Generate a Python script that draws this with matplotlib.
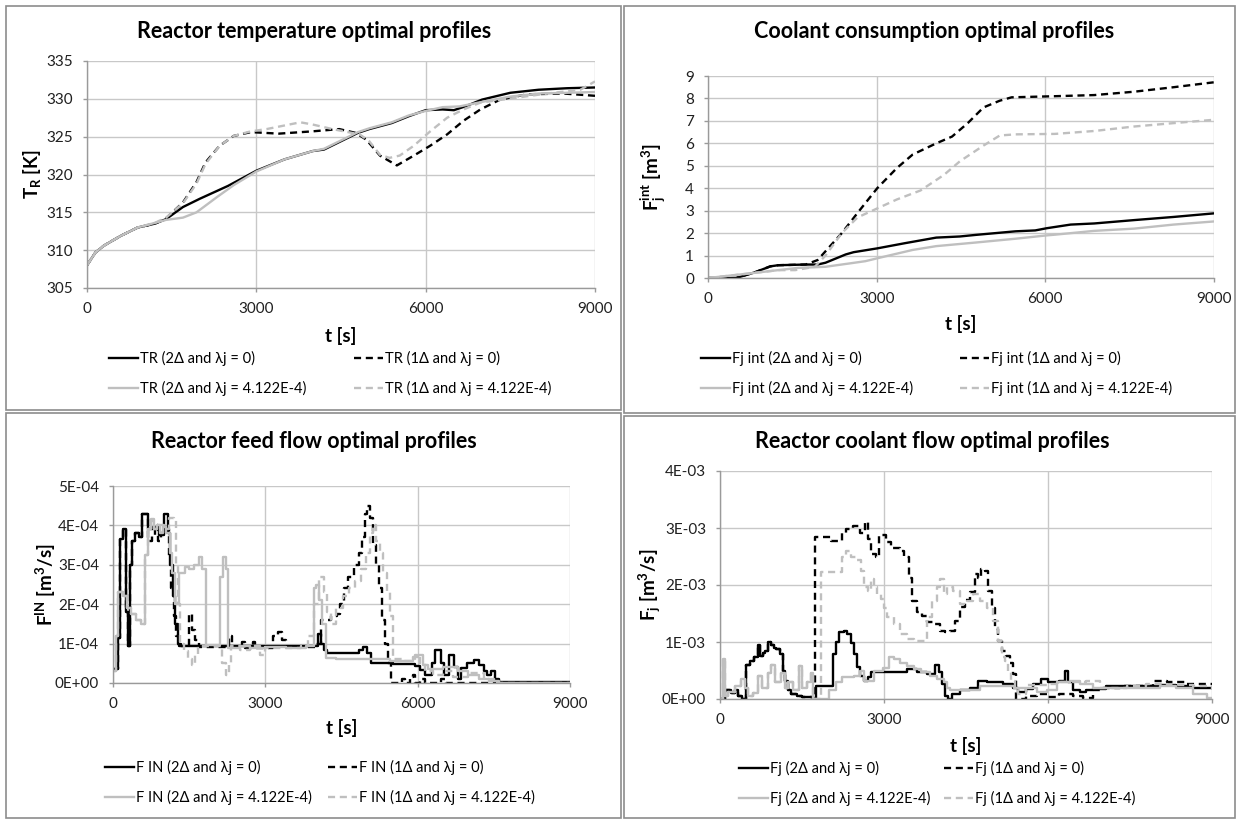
import numpy as np
import matplotlib
matplotlib.use("Agg")
import matplotlib.pyplot as plt
from matplotlib.patches import Rectangle
from matplotlib.ticker import FuncFormatter

plt.rcParams["font.family"] = ["Lato", "Open Sans", "DejaVu Sans"]
plt.rcParams["mathtext.fontset"] = "custom"
plt.rcParams["mathtext.rm"] = "Lato"
plt.rcParams["mathtext.bf"] = "Lato:bold"
plt.rcParams["mathtext.it"] = "Lato:italic"

W, H = 1240, 823

# ---- data (t [s], value) ----
# Reactor temperature [K]
TR_2D_0 = [(0, 308.0), (150, 309.7), (300, 310.6), (600, 311.9), (900, 313.0), (1200, 313.5),
           (1400, 314.1), (1700, 315.7), (2000, 316.8), (2500, 318.5), (3000, 320.5), (3500, 322.0),
           (4000, 323.1), (4200, 323.3), (4500, 324.4), (4800, 325.5), (5000, 326.0), (5400, 326.8),
           (5700, 327.7), (6000, 328.5), (6300, 328.6), (6500, 328.5), (6700, 329.0), (7000, 329.9),
           (7500, 330.8), (8000, 331.2), (8500, 331.4), (9000, 331.5)]
TR_1D_0 = [(0, 308.0), (150, 309.7), (300, 310.6), (600, 311.9), (900, 313.0), (1200, 313.5),
           (1400, 314.2), (1700, 316.3), (1940, 319.0), (2100, 321.6), (2350, 323.8), (2600, 325.1),
           (2900, 325.6), (3400, 325.4), (3990, 325.7), (4470, 326.0), (4760, 325.5), (4950, 324.6),
           (5190, 322.5), (5490, 321.2), (5790, 322.5), (6080, 323.8), (6380, 325.3), (6670, 327.1),
           (6970, 328.6), (7320, 329.9), (7800, 330.6), (8450, 330.7), (9000, 330.4)]
TR_2D_L = [(0, 308.0), (150, 309.7), (300, 310.6), (600, 311.9), (900, 313.0), (1200, 313.6),
           (1400, 314.0), (1700, 314.3), (1940, 315.0), (2300, 317.0), (2600, 318.6), (3000, 320.4),
           (3500, 322.0), (4000, 323.1), (4200, 323.4), (4500, 324.5), (4800, 325.6), (5000, 326.1),
           (5400, 326.9), (5700, 327.8), (6000, 328.4), (6300, 328.9), (6600, 329.0), (7000, 329.6),
           (7500, 330.3), (8000, 330.7), (8500, 330.8), (9000, 330.9)]
TR_1D_L = [(0, 308.0), (150, 309.7), (300, 310.6), (600, 311.9), (900, 313.0), (1200, 313.6),
           (1400, 314.3), (1700, 316.2), (1940, 318.8), (2100, 321.4), (2350, 323.8), (2600, 325.1),
           (2900, 325.7), (3180, 326.0), (3780, 326.9), (4000, 326.6), (4350, 326.0), (4830, 325.3),
           (5000, 324.4), (5190, 322.6), (5360, 322.2), (5540, 322.5), (5790, 323.8), (6080, 325.7),
           (6380, 327.5), (6670, 328.6), (6970, 329.5), (7560, 330.1), (8150, 330.7), (8740, 331.2),
           (9000, 332.3)]

# Coolant consumption [m3]
FINT_2D_0 = [(0, 0.0), (500, 0.0), (830, 0.25), (1110, 0.52), (1250, 0.57), (1740, 0.6), (1950, 0.6),
             (2090, 0.68), (2450, 1.05), (2590, 1.15), (3010, 1.32), (3500, 1.55), (4060, 1.8),
             (4480, 1.85), (4760, 1.92), (5470, 2.08), (5820, 2.12), (6030, 2.22), (6450, 2.38),
             (6870, 2.43), (7580, 2.58), (8280, 2.72), (9000, 2.88)]
FINT_1D_0 = [(0, 0.0), (500, 0.0), (830, 0.25), (1110, 0.52), (1250, 0.57), (1740, 0.6), (1950, 0.8),
             (2380, 2.0), (2660, 2.9), (3010, 4.0), (3360, 4.9), (3640, 5.5), (4060, 6.0), (4340, 6.3),
             (4620, 6.9), (4900, 7.6), (5190, 7.9), (5400, 8.05), (6170, 8.1), (6870, 8.15),
             (7580, 8.3), (8280, 8.5), (9000, 8.72)]
FINT_2D_L = [(0, 0.0), (550, 0.15), (1250, 0.35), (1600, 0.45), (2090, 0.5), (2520, 0.65), (2800, 0.75),
             (3080, 0.92), (3640, 1.25), (4060, 1.42), (4760, 1.58), (5470, 1.75), (6030, 1.9),
             (6170, 1.93), (6870, 2.1), (7580, 2.2), (8280, 2.38), (9000, 2.52)]
FINT_1D_L = [(0, 0.0), (550, 0.15), (1250, 0.35), (1550, 0.35), (1900, 0.5), (2090, 1.0), (2380, 2.0),
             (2660, 2.7), (3010, 3.1), (3360, 3.5), (3780, 3.9), (4200, 4.6), (4480, 5.2), (4900, 5.9),
             (5190, 6.35), (5470, 6.4), (6170, 6.42), (6870, 6.55), (7580, 6.75), (8280, 6.9),
             (9000, 7.05)]

# Reactor feed flow [1e-4 m3/s]
FIN_2D_0 = [(0, 0.35), (90, 1.15), (140, 3.65), (190, 3.9), (260, 1.8), (300, 0.93), (330, 3.0),
            (370, 3.6), (430, 3.8), (520, 3.7), (570, 4.3), (680, 3.9), (780, 3.95), (900, 3.75),
            (1000, 4.3), (1080, 3.8), (1130, 3.0), (1180, 2.2), (1230, 1.5), (1280, 1.0), (1330, 0.93),
            (4030, 1.25), (4100, 1.0), (4160, 0.85), (4220, 0.75), (4850, 0.85), (4930, 0.92),
            (5000, 0.75), (5080, 0.5), (5520, 0.48), (5940, 0.42), (6050, 0.32), (6150, 0.21),
            (6280, 0.5), (6340, 0.83), (6450, 0.5), (6520, 0.2), (6620, 0.72), (6720, 0.4),
            (6790, 0.1), (6860, 0.38), (6980, 0.5), (7100, 0.59), (7200, 0.45), (7300, 0.3),
            (7360, 0.2), (7440, 0.3), (7520, 0.1), (7600, 0.02), (9000, 0.0)]
FIN_1D_0 = [(0, 0.35), (90, 1.15), (140, 3.65), (190, 3.9), (260, 1.8), (300, 0.93), (330, 3.0),
            (370, 3.6), (430, 3.8), (520, 3.7), (570, 4.3), (680, 3.6), (760, 3.75), (820, 4.0),
            (880, 3.6), (950, 3.8), (1020, 3.9), (1100, 3.2), (1150, 2.4), (1200, 1.7), (1250, 1.2),
            (1300, 0.95), (1500, 1.75), (1560, 1.35), (1620, 1.1), (1700, 0.92), (2280, 1.2),
            (2340, 0.92), (2550, 1.05), (2600, 0.9), (2750, 1.05), (2800, 0.9), (3150, 1.2),
            (3250, 1.3), (3330, 1.1), (3400, 0.92), (4000, 1.0), (4100, 1.6), (4300, 1.7),
            (4420, 1.75), (4480, 2.0), (4550, 2.4), (4620, 2.7), (4750, 3.0), (4850, 3.3),
            (4900, 3.7), (4960, 4.3), (5000, 4.5), (5060, 4.2), (5120, 3.5), (5180, 3.0),
            (5240, 2.4), (5300, 1.6), (5360, 1.0), (5420, 0.5), (5480, 0.0), (5700, 0.1),
            (5760, 0.0), (5850, 0.15), (5900, 0.2), (5950, 0.0), (6050, 0.1), (6150, 0.0),
            (6450, 0.1), (6550, 0.0), (9000, 0.0)]
FIN_2D_L = [(0, 0.3), (60, 1.2), (100, 2.3), (200, 2.2), (280, 1.9), (350, 1.75), (450, 1.6),
            (550, 1.5), (640, 3.25), (690, 3.9), (740, 4.17), (800, 3.9), (860, 4.0), (920, 3.8),
            (980, 3.95), (1050, 3.8), (1120, 3.3), (1170, 2.8), (1220, 2.0), (1300, 2.8), (1420, 2.95),
            (1500, 2.9), (1600, 3.0), (1700, 3.2), (1760, 2.9), (1840, 0.97), (2100, 2.7), (2160, 3.2),
            (2230, 2.9), (2270, 0.88), (2500, 0.95), (2700, 0.88), (3000, 0.92), (3400, 0.88),
            (3800, 0.95), (3960, 2.4), (4000, 2.5), (4060, 2.1), (4120, 1.5), (4190, 0.63),
            (4400, 0.6), (5450, 0.55), (5900, 0.65), (6000, 0.7), (6100, 0.45), (6200, 0.35),
            (6500, 0.4), (6800, 0.3), (7000, 0.2), (7200, 0.1), (7400, 0.05), (7600, 0.0), (9000, 0.0)]
FIN_1D_L = [(0, 0.3), (60, 1.2), (100, 2.3), (200, 2.2), (280, 1.9), (350, 1.75), (450, 1.6),
            (550, 1.5), (640, 3.25), (690, 3.9), (740, 4.1), (800, 3.9), (900, 4.0), (1000, 3.9),
            (1100, 4.2), (1200, 4.15), (1250, 3.0), (1280, 2.0), (1320, 1.0), (1400, 0.8), (1480, 0.62),
            (1560, 0.45), (1620, 0.7), (1680, 0.95), (2150, 0.5), (2220, 0.2), (2280, 0.5), (2330, 0.95),
            (2500, 0.85), (2700, 0.95), (2900, 0.7), (3000, 0.9), (3700, 0.95), (3850, 1.2),
            (3950, 2.0), (4050, 2.7), (4150, 2.3), (4220, 1.8), (4300, 1.5), (4400, 1.9), (4520, 2.2),
            (4640, 2.4), (4760, 2.6), (4880, 2.9), (4980, 3.3), (5060, 3.8), (5130, 4.0), (5180, 3.6),
            (5250, 3.3), (5320, 2.8), (5400, 2.3), (5460, 1.7), (5520, 0.6), (5700, 0.55),
            (5950, 0.7), (6050, 0.5), (6150, 0.3), (6300, 0.2), (6500, 0.3), (6700, 0.15),
            (7000, 0.25), (7300, 0.1), (7500, 0.0), (9000, 0.0)]

# Reactor coolant flow [1e-3 m3/s]
FJ_START = [(0, 0.0), (100, 0.15), (200, 0.1), (270, 0.15), (330, 0.05), (400, 0.0), (480, 0.6),
            (540, 0.67), (630, 0.73), (690, 0.95), (730, 0.75), (790, 0.8), (820, 0.85), (880, 1.0),
            (940, 0.95), (980, 0.9), (1030, 0.88), (1090, 0.79), (1150, 0.5), (1180, 0.32),
            (1240, 0.15), (1300, 0.09), (1400, 0.06), (1500, 0.04), (1600, 0.03), (1700, 0.0)]
FJ_2D_0 = FJ_START + [(1760, 0.23), (2060, 0.79), (2120, 1.0), (2180, 1.17), (2270, 1.2), (2330, 1.14),
                      (2390, 0.99), (2450, 0.79), (2510, 0.56), (2570, 0.41), (2630, 0.32), (2700, 0.38),
                      (2760, 0.47), (3420, 0.53), (3600, 0.47), (3790, 0.44), (3930, 0.6), (4000, 0.47),
                      (4060, 0.26), (4120, 0.06), (4170, 0.0), (4250, 0.08), (4390, 0.15), (4570, 0.2),
                      (4720, 0.32), (4880, 0.3), (5060, 0.29), (5180, 0.26), (5360, 0.2), (5450, 0.13),
                      (5600, 0.18), (5730, 0.26), (5880, 0.35), (6000, 0.29), (6200, 0.31), (6320, 0.5),
                      (6370, 0.29), (6460, 0.15), (6580, 0.12), (6700, 0.15), (6830, 0.18), (7070, 0.22),
                      (7560, 0.23), (8050, 0.25), (8350, 0.22), (8650, 0.2), (9000, 0.19)]
FJ_1D_0 = FJ_START + [(1730, 2.84), (2030, 2.78), (2240, 2.92), (2300, 2.98), (2440, 3.04), (2570, 2.92),
                      (2660, 3.1), (2700, 2.8), (2760, 2.54), (2850, 2.49), (2900, 2.87), (3030, 2.75),
                      (3120, 2.65), (3300, 2.6), (3360, 2.49), (3450, 2.13), (3510, 1.72), (3600, 1.52),
                      (3700, 1.46), (3790, 1.35), (3910, 1.32), (4030, 1.2), (4120, 1.17), (4210, 1.2),
                      (4300, 1.37), (4390, 1.61), (4480, 1.73), (4570, 1.87), (4660, 2.19), (4720, 2.13),
                      (4780, 2.28), (4850, 2.25), (4900, 1.9), (4970, 1.6), (5030, 1.23), (5090, 1.02),
                      (5150, 0.85), (5240, 0.76), (5300, 0.64), (5360, 0.44), (5410, 0.0), (5600, 0.06),
                      (5790, 0.09), (6000, 0.04), (6200, 0.09), (6460, 0.06), (6640, 0.02), (6820, 0.15),
                      (7010, 0.2), (7310, 0.23), (7560, 0.22), (7920, 0.32), (8170, 0.29), (8530, 0.27),
                      (9000, 0.26)]
FJ_START_L = [(0, 0.0), (60, 0.7), (90, 0.05), (150, 0.12), (270, 0.23), (390, 0.35), (450, 0.2),
              (510, 0.05), (600, 0.1), (700, 0.4), (760, 0.2), (880, 0.45), (940, 0.6), (1000, 0.3),
              (1120, 0.45), (1180, 0.2), (1240, 0.3), (1330, 0.15), (1440, 0.58), (1500, 0.2),
              (1600, 0.3), (1660, 0.45), (1700, 0.0)]
FJ_2D_L = FJ_START_L + [(2000, 0.15), (2120, 0.29), (2240, 0.38), (2450, 0.41), (2570, 0.5), (2640, 0.32),
                        (2820, 0.5), (2990, 0.55), (3090, 0.73), (3180, 0.7), (3300, 0.64), (3420, 0.58),
                        (3540, 0.53), (3670, 0.47), (3850, 0.41), (3970, 0.35), (4090, 0.29), (4150, 0.2),
                        (4210, 0.15), (4390, 0.16), (4760, 0.23), (5370, 0.2), (5790, 0.12), (5980, 0.15),
                        (6160, 0.29), (6400, 0.32), (6580, 0.26), (6830, 0.2), (7440, 0.2), (8050, 0.23),
                        (8350, 0.2), (8650, 0.09), (8900, 0.02), (9000, 0.0)]
FJ_1D_L = FJ_START_L + [(1850, 2.22), (2240, 2.49), (2300, 2.6), (2400, 2.49), (2480, 2.43), (2575, 2.25),
                        (2636, 1.96), (2700, 1.9), (2760, 2.1), (2820, 1.96), (2880, 1.84), (2940, 1.75),
                        (3000, 1.6), (3060, 1.43), (3180, 1.32), (3300, 1.14), (3420, 1.05), (3545, 1.02),
                        (3790, 1.43), (3880, 1.72), (3970, 1.96), (4030, 2.1), (4090, 1.84), (4150, 1.96),
                        (4270, 1.9), (4390, 1.67), (4510, 1.72), (4630, 1.84), (4750, 1.72), (4880, 1.6),
                        (5000, 1.37), (5090, 1.02), (5150, 0.73), (5210, 0.67), (5270, 0.47), (5330, 0.32),
                        (5400, 0.15), (5460, 0.09), (5600, 0.25), (6000, 0.26), (6220, 0.29), (6700, 0.32),
                        (6950, 0.2), (7440, 0.23), (7800, 0.26), (8170, 0.25), (8650, 0.23), (9000, 0.15)]

LEG_SUFFIX = ["(2\u0394 and \u03bbj = 0)", "(1\u0394 and \u03bbj = 0)",
              "(2\u0394 and \u03bbj = 4.122E-4)", "(1\u0394 and \u03bbj = 4.122E-4)"]

BLACK = "#000000"
GREY = "#BFBFBF"
GRID = "#C8C8C8"
AXIS = "#9A9A9A"
LW = 1.7


def unzip(pairs, scale=1.0):
    t = np.array([p[0] for p in pairs], dtype=float)
    v = np.array([p[1] for p in pairs], dtype=float) * scale
    return t, v


def frac_rect(x0, y0, x1, y1):
    return [x0 / W, 1 - y1 / H, (x1 - x0) / W, (y1 - y0) / H]


def style_axes(ax, ylim, yticks, fmt=None):
    ax.set_xlim(0, 9000)
    ax.set_xticks([0, 3000, 6000, 9000])
    ax.set_ylim(*ylim)
    ax.set_yticks(yticks)
    if fmt is not None:
        ax.yaxis.set_major_formatter(FuncFormatter(fmt))
    ax.grid(True, color=GRID, lw=1.0)
    ax.set_axisbelow(True)
    for s in ["top", "right"]:
        ax.spines[s].set_visible(False)
    for s in ["left", "bottom"]:
        ax.spines[s].set_color(AXIS)
        ax.spines[s].set_linewidth(1.0)
    ax.tick_params(length=3, width=1.0, color=AXIS, pad=7, labelsize=11, labelcolor="#202020")


def add_legend(fig, lines, prefix, col_x, row_y):
    # two single-column legends give exact column placement
    y_top = 1 - (row_y - 9) / H
    for k, x in enumerate(col_x):
        hs = [lines[k], lines[k + 2]]
        labs = [prefix + " " + LEG_SUFFIX[k], prefix + " " + LEG_SUFFIX[k + 2]]
        fig.legend(hs, labs, loc="upper left", bbox_to_anchor=(x / W, y_top),
                   frameon=False, borderpad=0, borderaxespad=0, handlelength=2.0,
                   handletextpad=0.15, labelspacing=1.05, fontsize=10.5)


def draw(ax, series, scale=1.0, step=False):
    styles = [dict(color=BLACK, ls="-"), dict(color=BLACK, ls=(0, (3, 2))),
              dict(color=GREY, ls="-"), dict(color=GREY, ls=(0, (3, 2)))]
    lines = []
    for pairs, st in zip(series, styles):
        t, v = unzip(pairs, scale)
        if step:
            ln, = ax.step(t, v, where="post", lw=LW, **st)
        else:
            ln, = ax.plot(t, v, lw=LW, **st)
        lines.append(ln)
    return lines


fig = plt.figure(figsize=(W / 100, H / 100), dpi=100)

# panel frames
for r in [(6, 6, 621, 410), (624, 6, 1235, 413), (6, 413, 621, 818), (624, 416, 1235, 818)]:
    x0, y0, x1, y1 = r
    fig.add_artist(Rectangle((x0 / W, 1 - y1 / H), (x1 - x0) / W, (y1 - y0) / H,
                             transform=fig.transFigure, fill=False, ec="#8C8C8C", lw=1.2))

title_kw = dict(fontsize=15.5, fontweight="bold", ha="center", va="center")
lab_kw = dict(fontsize=13.5, fontweight="bold")

# --- Reactor temperature ---
ax1 = fig.add_axes(frac_rect(87, 61, 595, 288))
lines = draw(ax1, [TR_2D_0, TR_1D_0, TR_2D_L, TR_1D_L])
style_axes(ax1, (305, 335), np.arange(305, 336, 5))
ax1.set_xlabel("t [s]", **lab_kw)
ax1.xaxis.set_label_coords(0.5, -0.17)
ax1.set_ylabel(r"$\mathbf{T_R}$ [K]", **lab_kw)
ax1.yaxis.set_label_coords(-0.086, 0.5)
fig.text(314 / W, 1 - 31 / H, "Reactor temperature optimal profiles", **title_kw)
add_legend(fig, lines, "TR", [109, 354], 360)

# --- Coolant consumption ---
ax2 = fig.add_axes(frac_rect(708, 76, 1214, 278))
lines = draw(ax2, [FINT_2D_0, FINT_1D_0, FINT_2D_L, FINT_1D_L])
style_axes(ax2, (0, 9), np.arange(0, 10, 1))
ax2.set_xlabel("t [s]", **lab_kw)
ax2.xaxis.set_label_coords(0.5, -0.185)
ax2.set_ylabel(r"$\mathbf{F_j^{int}}$ [m$^\mathbf{3}$]", **lab_kw)
ax2.yaxis.set_label_coords(-0.08, 0.5)
fig.text(934 / W, 1 - 31 / H, "Coolant consumption optimal profiles", **title_kw)
add_legend(fig, lines, "Fj int", [701, 960], 360)

sci = lambda v, pos: "{:.0E}".format(v)

# --- Reactor feed flow ---
ax3 = fig.add_axes(frac_rect(113, 486, 570, 683))
lines = draw(ax3, [FIN_2D_0, FIN_1D_0, FIN_2D_L, FIN_1D_L], scale=1e-4, step=True)
style_axes(ax3, (0, 5e-4), np.arange(0, 5.01e-4, 1e-4), sci)
ax3.set_xlabel("t [s]", **lab_kw)
ax3.xaxis.set_label_coords(0.5, -0.185)
ax3.set_ylabel(r"$\mathbf{F^{IN}}$ [m$^\mathbf{3}$/s]", **lab_kw)
ax3.yaxis.set_label_coords(-0.12, 0.5)
fig.text(314 / W, 1 - 441 / H, "Reactor feed flow optimal profiles", **title_kw)
add_legend(fig, lines, "F IN", [105, 328], 769)

# --- Reactor coolant flow ---
ax4 = fig.add_axes(frac_rect(720, 471, 1212, 699))
lines = draw(ax4, [FJ_2D_0, FJ_1D_0, FJ_2D_L, FJ_1D_L], scale=1e-3, step=True)
style_axes(ax4, (0, 4e-3), np.arange(0, 4.01e-3, 1e-3), sci)
ax4.set_xlabel("t [s]", **lab_kw)
ax4.xaxis.set_label_coords(0.5, -0.165)
ax4.set_ylabel(r"$\mathbf{F_j}$ [m$^\mathbf{3}$/s]", **lab_kw)
ax4.yaxis.set_label_coords(-0.115, 0.5)
fig.text(932 / W, 1 - 441 / H, "Reactor coolant flow optimal profiles", **title_kw)
add_legend(fig, lines, "Fj", [739, 944], 770)

fig.savefig("out.png", dpi=100)
